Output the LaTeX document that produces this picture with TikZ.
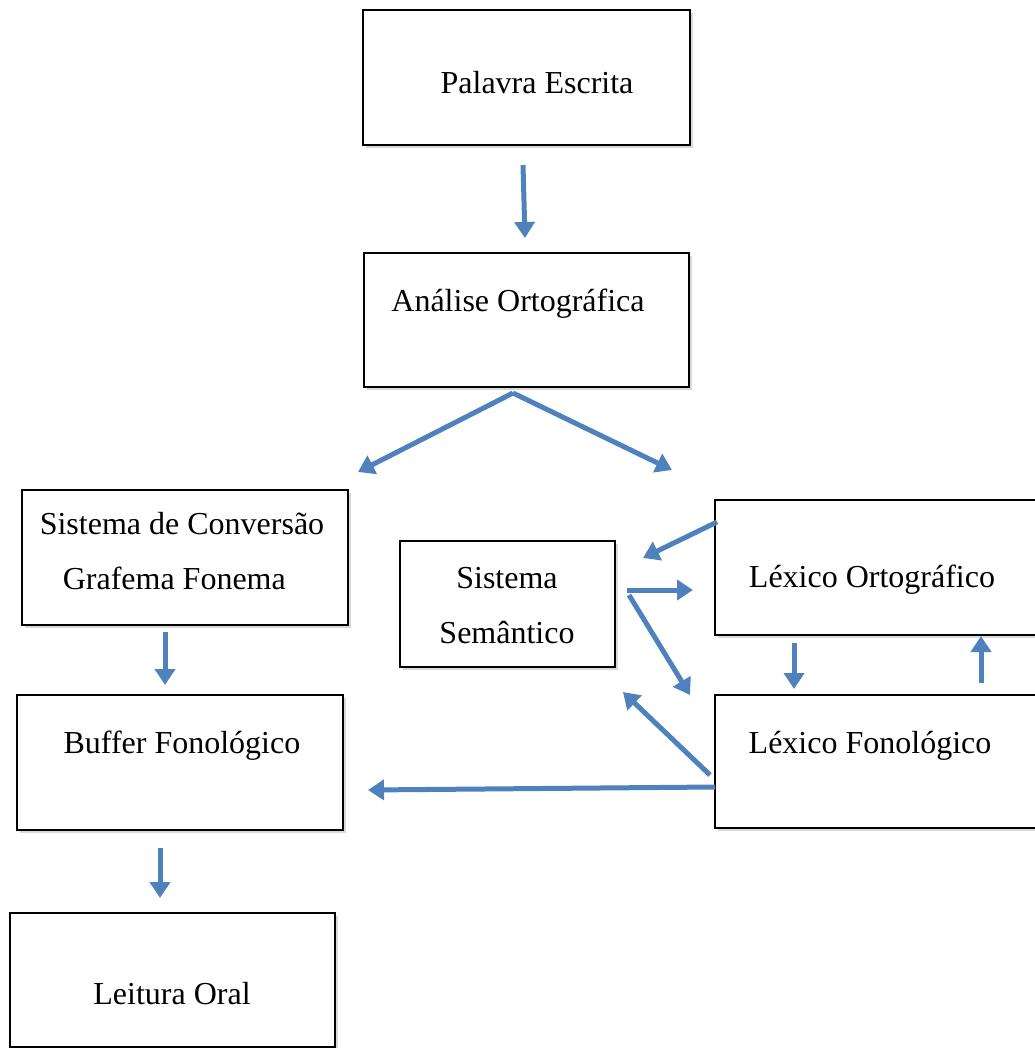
\documentclass[tikz,border=0pt]{standalone}
\usepackage{fontspec}
\setmainfont{Liberation Serif}
\usetikzlibrary{arrows.meta,shadows}

\tikzset{
    caixa/.style={draw, line width=1pt, fill=white, inner sep=0pt,
        drop shadow={shadow xshift=1.5pt, shadow yshift=-1.5pt, fill=black!25, opacity=0.6}},
    rotulo/.style={inner sep=0pt, align=center, font=\fontsize{16}{27.5}\selectfont},
    seta/.style={line width=2.5pt, color=azul, -{Triangle[width=10pt,length=8pt]}}
}
\definecolor{azul}{RGB}{79,129,189}

\begin{document}
\begin{tikzpicture}[x=0.5pt,y=-0.5pt]

        \useasboundingbox (0,0) rectangle (1034,1048);

        \node[caixa, minimum width=163.5pt, minimum height=67.5pt] (palavra) at (526.5, 77.5) {};
        \node[caixa, minimum width=162.5pt, minimum height=67pt] (analise) at (526.5, 320) {};
        \node[caixa, minimum width=163pt, minimum height=67.5pt] (conversao) at (185, 557.5) {};
        \node[caixa, minimum width=107.5pt, minimum height=63pt] (semantico) at (507.5, 604) {};
        \node[caixa, minimum width=162.5pt, minimum height=67.5pt] (lexorto) at (877.5, 567.5) {};
        \node[caixa, minimum width=163pt, minimum height=67.5pt] (buffer) at (180, 762.5) {};
        \node[caixa, minimum width=162.5pt, minimum height=66.5pt] (lexfono) at (877.5, 761.5) {};
        \node[caixa, minimum width=162.5pt, minimum height=67pt] (leitura) at (172.5, 980) {};

        \node[rotulo] (palavra-t) at (537, 83) {Palavra Escrita};
        \node[rotulo] (analise-t) at (518, 304) {Análise Ortográfica};
        \node[rotulo, align=left] (conversao-t) at (182, 551) {Sistema de Conversão\\\hspace*{11.5pt}Grafema Fonema};
        \node[rotulo] (semantico-t) at (507, 606) {Sistema\\Semântico};
        \node[rotulo] (lexorto-t) at (872, 580) {Léxico Ortográfico};
        \node[rotulo] (buffer-t) at (182, 746) {Buffer Fonológico};
        \node[rotulo] (lexfono-t) at (870, 746) {Léxico Fonológico};
        \node[rotulo] (leitura-t) at (172, 994) {Leitura Oral};

        % pontas das setas
        \coordinate (p1) at (523,165);   \coordinate (a1) at (525,238);
        \coordinate (a0) at (513,393);
        \coordinate (c1) at (358,472);   \coordinate (s1) at (672,470);
        \coordinate (c2) at (165,632);   \coordinate (b1) at (165,685);
        \coordinate (b2) at (160,848);   \coordinate (l1) at (160,898);
        \coordinate (o1) at (717,522);   \coordinate (s2) at (643,558);
        \coordinate (s3) at (627,590);   \coordinate (o2) at (693,590);
        \coordinate (s4) at (629,595);   \coordinate (f1) at (690,695);
        \coordinate (o3) at (794,643);   \coordinate (f2) at (794,689);
        \coordinate (f3) at (981,683);   \coordinate (o4) at (981,636);
        \coordinate (f4) at (710,775);   \coordinate (s5) at (623,692);
        \coordinate (f5) at (715,787);   \coordinate (b3) at (368,790);

        \draw[seta] (p1) -- (a1);
        \draw[seta] (a0) -- (c1);
        \draw[seta] (a0) -- (s1);
        \draw[seta] (c2) -- (b1);
        \draw[seta] (b2) -- (l1);
        \draw[seta] (o1) -- (s2);
        \draw[seta] (s3) -- (o2);
        \draw[seta] (s4) -- (f1);
        \draw[seta] (o3) -- (f2);
        \draw[seta] (f3) -- (o4);
        \draw[seta] (f4) -- (s5);
        \draw[seta] (f5) -- (b3);

    \end{tikzpicture}
\end{document}
